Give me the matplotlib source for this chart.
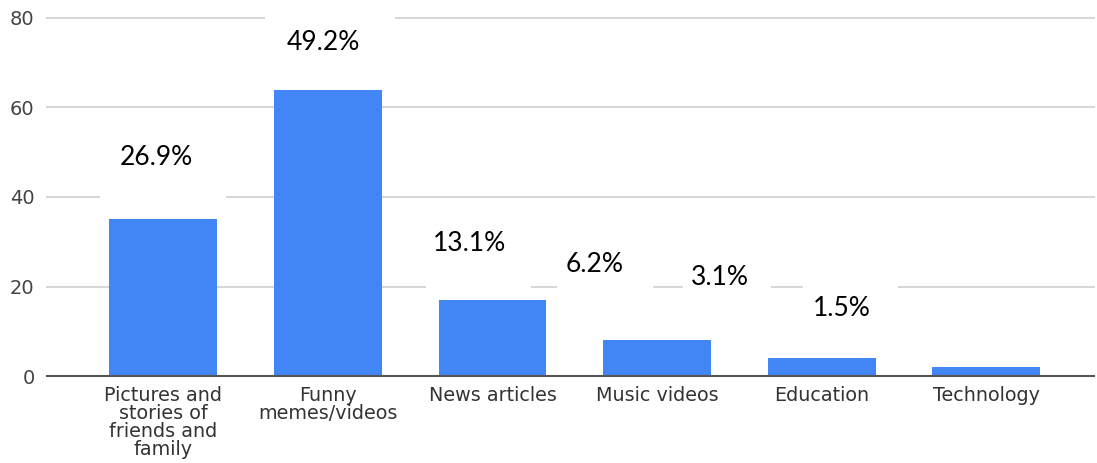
import matplotlib
matplotlib.use("Agg")
import matplotlib.pyplot as plt
from matplotlib.patches import Rectangle
from matplotlib.transforms import IdentityTransform

# ── survey counts ──────────────────────────────────────────────────────
categories = [
    "Pictures and\nstories of\nfriends and\nfamily",
    "Funny\nmemes/videos",
    "News articles",
    "Music videos",
    "Education",
    "Technology",
]
counts = [35, 64, 17, 8, 4, 2]
y_ticks = [0, 20, 40, 60, 80]

# percentage callouts (placed by hand, x in category units, y in count units)
label_pos = [(-0.04, 48.9), (0.97, 74.6), (1.86, 29.7),
             (2.62, 25.0), (3.38, 22.1), (4.12, 15.0)]
# white backing behind each callout: centre shift and width in px
box_dx = [6, 7, 9, 10, 7, 9]
box_w = [126, 130, 105, 96, 88, 95]
PAD_UP, PAD_DOWN = 38, 47

BLUE = "#4285F4"
total = sum(counts)

fig = plt.figure(figsize=(10.97, 4.63), dpi=100)
ax = fig.add_axes([47 / 1097, 87 / 463, 1047 / 1097, 358 / 463])

x = list(range(len(categories)))
ax.bar(x, counts, width=0.655, color=BLUE, zorder=2)

ax.set_xlim(-0.707, 5.654)
ax.set_ylim(0, 80)
ax.set_yticks(y_ticks)
ax.set_yticklabels([str(t) for t in y_ticks], fontsize=14, color="#444444",
                   family="DejaVu Sans")
ax.set_xticks(x)
ax.set_xticklabels(categories, fontsize=13.8, color="#333333",
                   family="DejaVu Sans", linespacing=0.93)
ax.tick_params(axis="y", length=0, pad=9)
ax.tick_params(axis="x", length=0, pad=7)

for s in ["top", "right", "left"]:
    ax.spines[s].set_visible(False)
ax.spines["bottom"].set_color("#555555")
ax.spines["bottom"].set_linewidth(1.5)
ax.spines["bottom"].set_zorder(4)

for t in y_ticks[1:]:
    ax.axhline(t, color="#d6d6d6", lw=1.4, zorder=1, clip_on=False)

for (lx, ly), c, dx, w in zip(label_pos, counts, box_dx, box_w):
    ax.text(lx, ly, f"{c / total * 100:.1f}%", ha="center", va="center",
            fontsize=19, family="Lato", color="black", zorder=3)
    px, py = ax.transData.transform((lx, ly))
    ax.add_patch(Rectangle((px + dx - w / 2, py - PAD_DOWN), w, PAD_UP + PAD_DOWN,
                           transform=IdentityTransform(), fc="white", ec="none",
                           zorder=2.5, clip_on=False))

fig.savefig("out.png", dpi=100)
